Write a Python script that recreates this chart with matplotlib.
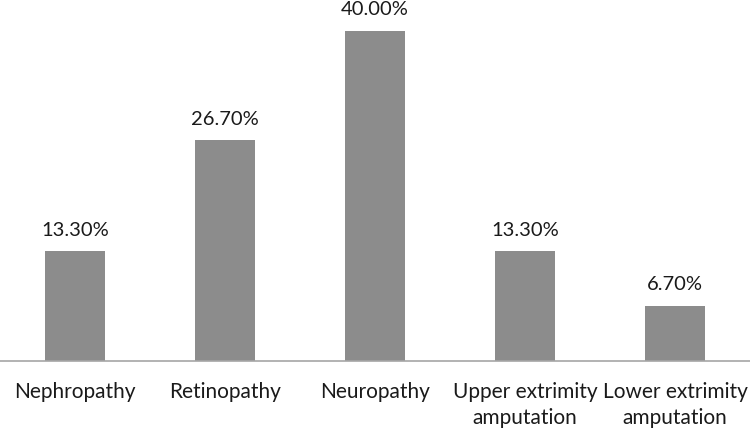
import matplotlib
matplotlib.use('Agg')
import matplotlib.pyplot as plt

categories = ['Nephropathy', 'Retinopathy', 'Neuropathy',
              'Upper extrimity\namputation', 'Lower extrimity\namputation']
values = [13.3, 26.7, 40.0, 13.3, 6.7]
labels = ['13.30%', '26.70%', '40.00%', '13.30%', '6.70%']

plt.rcParams['font.family'] = ['Lato', 'DejaVu Sans']

fig = plt.figure(figsize=(7.5, 4.28), dpi=100)
ax = fig.add_axes([0, 0.1565, 1, 0.8435])

x = range(len(categories))
ax.bar(x, values, width=0.4, color='#8c8c8c', zorder=2)
for i, v in enumerate(values):
    ax.text(i, v + 2.55, labels[i], ha='center', va='center', fontsize=14.5,
            color='#1a1a1a', clip_on=False)

ax.set_xlim(-0.5, 4.5)
ax.set_ylim(0, 43.7)
ax.set_xticks(list(x))
ax.set_xticklabels(categories, fontsize=15, color='#1a1a1a', linespacing=1.4)
ax.tick_params(axis='x', length=0, pad=15)
ax.set_yticks([])
for s in ['top', 'left', 'right']:
    ax.spines[s].set_visible(False)
ax.spines['bottom'].set_color('#a6a6a6')
ax.spines['bottom'].set_linewidth(1.2)
ax.patch.set_alpha(0)

fig.savefig('out.png', dpi=100)
